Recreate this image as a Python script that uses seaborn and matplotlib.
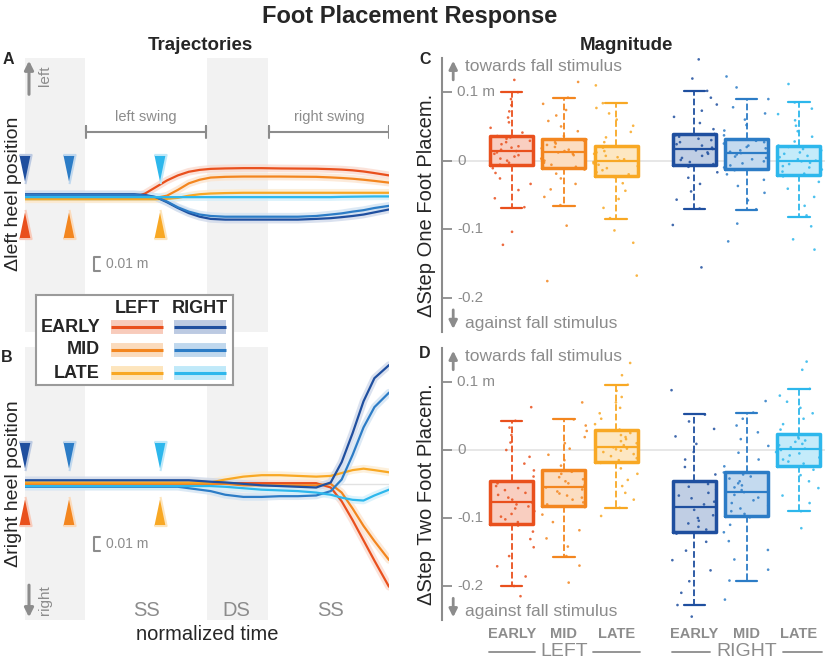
import numpy as np
import pandas as pd
import matplotlib
matplotlib.use("Agg")
import matplotlib.pyplot as plt
import matplotlib.colors as mcolors
import seaborn as sns

sns.set_theme(style="white")
plt.rcParams['font.family'] = ['Liberation Sans', 'DejaVu Sans']

GRAY = '#8c8c8c'
SHADE = '#f2f2f2'

# colours: EARLY / MID / LATE
COL_LEFT = ['#e9501d', '#f3861f', '#f8a824']
COL_RIGHT = ['#1f4f9f', '#2c7cc6', '#2db7ec']
PHASES = ['EARLY', 'MID', 'LATE']

# ---------------- trajectories (cm), normalized time ----------------
TIME = [0, .05, .1, .15, .2, .25, .3, .33, .36, .39, .42, .45, .48,
        .51, .55, .6, .65, .7, .75, .8, .84, .87, .9, .93, .96, 1.0]

A_LEFT_EARLY = [-0.1, -0.1, -0.1, -0.1, -0.1, -0.05, 0.0, 0.25, 0.7, 1.15, 1.5, 1.75, 1.88,
                1.95, 1.98, 2.0, 2.0, 1.98, 1.97, 1.96, 1.93, 1.9, 1.85, 1.77, 1.66, 1.5]
A_LEFT_MID = [-0.1, -0.1, -0.1, -0.1, -0.1, -0.1, -0.1, -0.1, -0.05, 0.1, 0.5, 0.95, 1.2,
              1.35, 1.4, 1.42, 1.42, 1.42, 1.41, 1.4, 1.36, 1.32, 1.27, 1.2, 1.12, 1.0]
A_LEFT_LATE = [-0.15, -0.15, -0.15, -0.15, -0.15, -0.15, -0.15, -0.15, -0.15, -0.12, -0.05, 0.1, 0.2,
               0.25, 0.28, 0.3, 0.3, 0.3, 0.3, 0.3, 0.3, 0.3, 0.3, 0.3, 0.3, 0.3]
A_RIGHT_EARLY = [0.2, 0.2, 0.2, 0.2, 0.2, 0.2, 0.2, 0.15, 0.0, -0.35, -0.75, -1.1, -1.35,
                 -1.5, -1.55, -1.55, -1.55, -1.55, -1.55, -1.5, -1.45, -1.38, -1.3, -1.2, -1.05, -0.85]
A_RIGHT_MID = [0.15, 0.15, 0.15, 0.15, 0.15, 0.15, 0.15, 0.1, 0.0, -0.3, -0.7, -1.0, -1.2,
               -1.3, -1.35, -1.35, -1.35, -1.35, -1.35, -1.3, -1.2, -1.12, -1.0, -0.9, -0.75, -0.6]
A_RIGHT_LATE = [0.0, 0.0, 0.0, 0.0, 0.0, 0.0, 0.0, 0.0, 0.0, 0.0, 0.0, 0.0, 0.0,
                0.0, 0.0, 0.0, 0.0, 0.0, 0.0, 0.0, 0.0, 0.02, 0.03, 0.04, 0.05, 0.05]

B_LEFT_EARLY = [0.05, 0.05, 0.05, 0.05, 0.05, 0.05, 0.05, 0.05, 0.05, 0.05, 0.05, 0.05, 0.05,
                0.05, 0.05, 0.05, 0.05, 0.05, 0.05, 0.05, -0.25, -1.2, -2.5, -3.9, -5.3, -7.1]
B_LEFT_MID = [0.0, 0.0, 0.0, 0.0, 0.0, 0.0, 0.0, 0.0, 0.0, 0.0, 0.0, 0.0, 0.0,
              0.0, 0.0, -0.1, -0.1, -0.1, -0.1, -0.1, 0.0, -0.6, -1.7, -2.9, -3.95, -5.25]
B_LEFT_LATE = [0.1, 0.1, 0.1, 0.1, 0.1, 0.1, 0.1, 0.1, 0.1, 0.1, 0.1, 0.1, 0.1,
               0.1, 0.3, 0.5, 0.6, 0.6, 0.55, 0.5, 0.55, 0.75, 0.95, 1.05, 0.95, 0.8]
B_RIGHT_EARLY = [0.25, 0.25, 0.25, 0.25, 0.25, 0.25, 0.25, 0.25, 0.25, 0.25, 0.25, 0.25, 0.2,
                 0.15, 0.1, 0.0, -0.1, -0.15, -0.2, -0.25, 0.1, 1.5, 3.5, 5.7, 7.3, 8.2]
B_RIGHT_MID = [-0.2, -0.2, -0.2, -0.2, -0.2, -0.2, -0.2, -0.2, -0.2, -0.2, -0.2, -0.3, -0.4,
               -0.5, -0.75, -0.9, -0.9, -0.85, -0.85, -0.8, -0.5, 0.3, 2.0, 3.9, 5.3, 6.3]
B_RIGHT_LATE = [-0.15, -0.15, -0.15, -0.15, -0.15, -0.15, -0.15, -0.15, -0.15, -0.15, -0.15, -0.15, -0.15,
                -0.15, -0.2, -0.3, -0.4, -0.45, -0.5, -0.6, -0.75, -0.95, -1.1, -1.15, -0.8, -0.4]

STIM_TIMES = [0.0, 0.12, 0.37]          # EARLY, MID, LATE stimulus onset
DS_SPANS = [(0.0, 0.165), (0.5, 0.667)]  # double stance phases
PHASE_LABELS = ['SS', 'DS', 'SS']
PHASE_CENTERS = [0.335, 0.58, 0.838]

# ---------------- foot placement (cm) ----------------
GROUPS = ['LEFT EARLY', 'LEFT MID', 'LEFT LATE', 'RIGHT EARLY', 'RIGHT MID', 'RIGHT LATE']
POS = [0, 1, 2, 3.5, 4.5, 5.5]

S1_LO = [-6.9, -6.6, -8.5, -7.1, -7.2, -8.2]
S1_Q1 = [-0.7, -1.1, -2.2, -0.7, -1.2, -2.1]
S1_MED = [1.4, 1.2, 0.0, 1.7, 1.1, 0.0]
S1_Q3 = [3.65, 3.1, 2.15, 3.9, 3.1, 2.2]
S1_HI = [10.0, 9.2, 8.4, 10.2, 9.0, 8.5]

S2_LO = [-20.0, -15.8, -8.5, -22.8, -19.2, -9.0]
S2_Q1 = [-10.9, -8.2, -1.7, -12.1, -9.7, -2.3]
S2_MED = [-7.65, -5.45, 0.4, -8.4, -6.2, 0.15]
S2_Q3 = [-4.6, -3.0, 3.0, -4.6, -3.3, 2.3]
S2_HI = [4.3, 4.5, 9.6, 5.25, 5.5, 9.0]

S1_DOTS = [
    [-12.3, -10.4, -6.8, -5.5, -4.3, -3.4, -2.6, -1.8, -1.1, -0.6, -0.3, 0.0, 0.3, 0.6, 0.8, 1.0, 1.2, 1.4,
     1.6, 1.9, 2.1, 2.4, 2.7, 2.9, 3.2, 3.4, 3.6, 4.1, 4.8, 5.6, 6.3, 7.2, 8.1, 9.0, 10.0, 11.8],
    [-17.6, -9.5, -6.5, -5.3, -4.2, -3.4, -2.6, -1.9, -1.3, -0.9, -0.6, -0.3, 0.0, 0.3, 0.5, 0.8, 1.0, 1.2,
     1.4, 1.6, 1.8, 2.0, 2.3, 2.5, 2.7, 2.9, 3.1, 3.6, 4.3, 5.0, 5.8, 6.6, 7.4, 8.3, 9.2, 11.5],
    [-16.8, -12.0, -10.2, -8.4, -6.9, -5.6, -4.4, -3.3, -2.4, -2.0, -1.7, -1.4, -1.1, -0.8, -0.6, -0.4, -0.2, 0.0,
     0.2, 0.5, 0.7, 1.0, 1.2, 1.4, 1.7, 1.9, 2.1, 2.7, 3.4, 4.2, 5.1, 6.0, 6.9, 7.7, 8.4, 11.0],
    [-15.6, -9.4, -7.0, -5.7, -4.5, -3.4, -2.5, -1.7, -0.9, -0.5, -0.2, 0.1, 0.4, 0.7, 1.0, 1.2, 1.5, 1.7,
     1.9, 2.2, 2.4, 2.7, 3.0, 3.2, 3.5, 3.7, 3.9, 4.6, 5.5, 6.4, 7.3, 8.2, 9.2, 10.2, 12.0, 14.8],
    [-11.8, -9.2, -7.1, -5.8, -4.7, -3.7, -2.8, -2.0, -1.4, -1.0, -0.7, -0.4, -0.1, 0.2, 0.4, 0.6, 0.9, 1.1,
     1.3, 1.5, 1.8, 2.0, 2.2, 2.5, 2.7, 2.9, 3.1, 3.7, 4.4, 5.2, 6.0, 6.9, 7.8, 9.0, 10.7, 12.3],
    [-13.0, -11.5, -9.6, -8.0, -6.6, -5.3, -4.1, -3.1, -2.3, -1.9, -1.6, -1.3, -1.0, -0.8, -0.5, -0.3, -0.1, 0.0,
     0.2, 0.5, 0.7, 1.0, 1.2, 1.5, 1.7, 2.0, 2.2, 2.8, 3.5, 4.3, 5.1, 5.9, 6.8, 7.6, 8.5, 11.2],
]
S2_DOTS = [
    [-21.5, -20.0, -18.6, -17.1, -15.6, -14.3, -13.1, -12.0, -11.1, -10.6, -10.2, -9.8, -9.4, -9.0, -8.6, -8.3,
     -8.0, -7.7, -7.3, -7.0, -6.6, -6.3, -5.9, -5.6, -5.3, -4.9, -4.6, -3.9, -3.0, -2.0, -1.0, 0.0, 1.1, 2.2,
     3.3, 4.3, 6.3],
    [-19.5, -17.0, -15.6, -14.2, -13.0, -11.8, -10.6, -9.5, -8.4, -8.0, -7.7, -7.3, -7.0, -6.7, -6.4, -6.1,
     -5.8, -5.5, -5.2, -4.9, -4.6, -4.3, -4.0, -3.8, -3.5, -3.2, -3.0, -2.3, -1.5, -0.7, 0.2, 1.0, 1.9, 2.8,
     3.6, 4.5, 7.0],
    [-9.7, -8.5, -7.3, -6.3, -5.3, -4.4, -3.5, -2.7, -1.9, -1.5, -1.2, -0.9, -0.6, -0.3, -0.1, 0.1, 0.2, 0.4,
     0.7, 1.0, 1.3, 1.6, 1.9, 2.2, 2.5, 2.8, 3.0, 3.8, 4.6, 5.4, 6.2, 7.0, 7.8, 8.7, 9.6, 11.0, 12.8],
    [-24.5, -22.8, -21.0, -19.3, -17.7, -16.2, -14.8, -13.5, -12.3, -11.7, -11.3, -10.8, -10.4, -10.0, -9.6,
     -9.2, -8.8, -8.4, -8.0, -7.6, -7.1, -6.7, -6.3, -5.8, -5.4, -5.0, -4.6, -3.6, -2.5, -1.4, -0.3, 0.9, 2.0,
     3.1, 4.2, 5.2, 8.8],
    [-22.0, -19.2, -17.6, -16.1, -14.7, -13.4, -12.1, -11.0, -9.9, -9.4, -9.0, -8.6, -8.2, -7.8, -7.4, -7.0,
     -6.6, -6.2, -5.9, -5.5, -5.2, -4.9, -4.6, -4.2, -3.9, -3.6, -3.3, -2.4, -1.4, -0.4, 0.6, 1.6, 2.6, 3.6,
     4.6, 5.5, 7.2],
    [-11.5, -9.0, -7.8, -6.7, -5.6, -4.6, -3.7, -2.9, -2.4, -2.0, -1.7, -1.4, -1.1, -0.8, -0.5, -0.3, 0.0, 0.2,
     0.4, 0.7, 0.9, 1.2, 1.4, 1.7, 1.9, 2.1, 2.3, 3.0, 3.8, 4.6, 5.4, 6.2, 7.1, 8.0, 9.0, 11.8, 13.0],
]

Y_TICKS = [-20, -10, 0, 10]
Y_TICK_LABELS = ['-0.2', '-0.1', '0', '0.1 m']


def tint(c, f):
    r = np.array(mcolors.to_rgb(c))
    return tuple(1 - f * (1 - r))


def draw_traj(ax, left_lines, right_lines, ylim):
    ax.set_xlim(0, 1)
    ax.set_ylim(*ylim)
    ax.axis('off')
    for x0, x1 in DS_SPANS:
        ax.axvspan(x0, x1, color=SHADE, lw=0, zorder=0)
    ax.axhline(0, color='#e2e2e2', lw=1, zorder=0.5)
    pairs = list(zip(left_lines, COL_LEFT)) + list(zip(right_lines, COL_RIGHT))
    for vals, c in pairs:
        sns.lineplot(x=TIME, y=vals, color=tint(c, 0.22), lw=5.5, alpha=0.75, ax=ax)
    for vals, c in pairs:
        sns.lineplot(x=TIME, y=vals, color=c, lw=1.6, ax=ax)
    # stimulus onsets
    tri_down = [(-0.42, 1.0), (0.42, 1.0), (0.0, -1.0)]
    tri_up = [(-0.42, -1.0), (0.42, -1.0), (0.0, 1.0)]
    for t, cr, cl in zip(STIM_TIMES, COL_RIGHT, COL_LEFT):
        ax.scatter([t], [1.95], marker=tri_down, s=440, color=cr, edgecolor=tint(cr, 0.3),
                   linewidth=1.5, clip_on=False, zorder=5)
        ax.scatter([t], [-1.85], marker=tri_up, s=440, color=cl, edgecolor=tint(cl, 0.3),
                   linewidth=1.5, clip_on=False, zorder=5)


def scale_bar(ax, y0):
    ax.plot([0.205, 0.19, 0.19, 0.205], [y0, y0, y0 - 1, y0 - 1], color=GRAY, lw=1.5)
    ax.text(0.223, y0 - 0.5, '0.01 m', color=GRAY, fontsize=10, va='center')


def draw_boxes(ax, lo, q1, med, q3, hi, dots):
    pal_dark = dict(zip(GROUPS, COL_LEFT + COL_RIGHT))
    pal_light = {g: tint(c, 0.28) for g, c in pal_dark.items()}
    box_df = pd.DataFrame({
        'pos': np.repeat(POS, 5),
        'grp': np.repeat(GROUPS, 5),
        'val': np.column_stack([lo, q1, med, q3, hi]).ravel(),
    })
    dot_df = pd.DataFrame({
        'pos': np.concatenate([[p] * len(d) for p, d in zip(POS, dots)]),
        'grp': np.concatenate([[g] * len(d) for g, d in zip(GROUPS, dots)]),
        'val': np.concatenate(dots),
    })
    ax.axhline(0, color='#e3e3e3', lw=1.2, zorder=0)
    common = dict(data=box_df, x='pos', y='val', hue='grp', native_scale=True, dodge=False,
                  orient='x', width=0.82, whis=(0, 100), saturation=1, legend=False, ax=ax)
    sns.boxplot(palette=pal_light, linewidth=0, **common)
    sns.stripplot(data=dot_df, x='pos', y='val', hue='grp', palette=pal_dark, native_scale=True,
                  dodge=False, orient='x', jitter=0.44, size=1.9, alpha=0.85, linewidth=0,
                  legend=False, ax=ax)
    sns.boxplot(palette=pal_dark, fill=False, linewidth=2.5,
                whiskerprops={'linestyle': '--', 'linewidth': 1.3},
                capprops={'linewidth': 1.6}, medianprops={'linewidth': 1.6}, **common)
    ax.set_xlim(-1.34, 6.0)
    ax.set_ylim(-25, 15)
    ax.set_xlabel('')
    ax.set_ylabel('')
    for s in ['top', 'right', 'bottom']:
        ax.spines[s].set_visible(False)
    ax.spines['left'].set_color(GRAY)
    ax.spines['left'].set_linewidth(1.5)
    ax.set_xticks([])
    ax.set_yticks(Y_TICKS)
    ax.set_yticklabels([])
    ax.tick_params(axis='y', direction='in', length=7, width=1.3, color=GRAY, left=True)
    tr = ax.get_yaxis_transform()
    for v, lab in zip(Y_TICKS, Y_TICK_LABELS):
        ax.text(0.04, v, lab, transform=tr, color=GRAY, fontsize=11, va='center', ha='left')
    # direction hints
    ax.annotate('', xy=(0.03, 1.0), xytext=(0.03, 0.91), xycoords='axes fraction',
                arrowprops=dict(arrowstyle='-|>', color=GRAY, lw=2, mutation_scale=12))
    ax.annotate('', xy=(0.03, 0.0), xytext=(0.03, 0.09), xycoords='axes fraction',
                arrowprops=dict(arrowstyle='-|>', color=GRAY, lw=2, mutation_scale=12))
    ax.text(0.061, 0.97, 'towards fall stimulus', transform=ax.transAxes, color=GRAY,
            fontsize=12.5, va='center')
    ax.text(0.061, 0.03, 'against fall stimulus', transform=ax.transAxes, color=GRAY,
            fontsize=12.5, va='center')


fig = plt.figure(figsize=(8.25, 6.6), dpi=100)
axA = fig.add_axes([0.0303, 0.497, 0.4412, 0.4152])
axB = fig.add_axes([0.0303, 0.0606, 0.4412, 0.4136])
axC = fig.add_axes([0.5354, 0.4974, 0.4646, 0.4147])
axD = fig.add_axes([0.5354, 0.0606, 0.4646, 0.4121])

# ---- panel A
draw_traj(axA, [A_LEFT_EARLY, A_LEFT_MID, A_LEFT_LATE],
          [A_RIGHT_EARLY, A_RIGHT_MID, A_RIGHT_LATE], (-9.3, 9.6))
for (x0, x1), lab in zip([(0.167, 0.497), (0.67, 1.0)], ['left swing', 'right swing']):
    axA.plot([x0, x0, x0, x1, x1, x1], [4.1, 4.9, 4.5, 4.5, 4.9, 4.1], color=GRAY, lw=1.5)
    axA.text((x0 + x1) / 2, 5.5, lab, color=GRAY, fontsize=10.5, ha='center', va='center')
axA.annotate('', xy=(0.011, 9.6), xytext=(0.011, 6.9),
             arrowprops=dict(arrowstyle='-|>', color=GRAY, lw=2.2, mutation_scale=13))
axA.text(0.054, 8.4, 'left', rotation=90, color=GRAY, fontsize=11, ha='center', va='center')
scale_bar(axA, -4.1)

# ---- panel B
draw_traj(axB, [B_LEFT_EARLY, B_LEFT_MID, B_LEFT_LATE],
          [B_RIGHT_EARLY, B_RIGHT_MID, B_RIGHT_LATE], (-9.4, 9.45))
axB.annotate('', xy=(0.011, -9.4), xytext=(0.011, -6.8),
             arrowprops=dict(arrowstyle='-|>', color=GRAY, lw=2.2, mutation_scale=13))
axB.text(0.056, -8.0, 'right', rotation=90, color=GRAY, fontsize=11, ha='center', va='center')
for x, lab in zip(PHASE_CENTERS, PHASE_LABELS):
    axB.text(x, -8.75, lab, color=GRAY, fontsize=14.5, ha='center', va='center')
scale_bar(axB, -3.65)

# ---- legend box
lg = fig.add_axes([36 / 825, 1 - 385 / 660, 197 / 825, 90 / 660])
lg.set_xlim(0, 197)
lg.set_ylim(90, 0)
lg.set_xticks([])
lg.set_yticks([])
for s in lg.spines.values():
    s.set_color('#9a9a9a')
    s.set_linewidth(1.5)
lg.text(101, 13, 'LEFT', ha='center', va='center', fontweight='bold', fontsize=13)
lg.text(164, 13, 'RIGHT', ha='center', va='center', fontweight='bold', fontsize=13)
for i, lab in enumerate(PHASES):
    y = 32 + 23 * i
    lg.text(64, y, lab, ha='right', va='center', fontweight='bold', fontsize=13)
    for (x0, x1), c in zip([(75, 127), (138, 190)], [COL_LEFT[i], COL_RIGHT[i]]):
        lg.plot([x0, x1], [y, y], color=tint(c, 0.3), lw=10, solid_capstyle='butt')
        lg.plot([x0, x1], [y, y], color=c, lw=2.2, solid_capstyle='butt')

# ---- panels C, D
draw_boxes(axC, S1_LO, S1_Q1, S1_MED, S1_Q3, S1_HI, S1_DOTS)
draw_boxes(axD, S2_LO, S2_Q1, S2_MED, S2_Q3, S2_HI, S2_DOTS)

tr = axD.get_xaxis_transform()
for p, g in zip(POS, GROUPS):
    axD.text(p, -0.052, g.split()[1], transform=tr, color=GRAY, fontsize=10.5, fontweight='bold',
             ha='center', va='center', clip_on=False)
for side, center, half, x0, x1 in [('LEFT', 1.0, 0.55, -0.43, 2.45), ('RIGHT', 4.5, 0.7, 3.07, 5.95)]:
    axD.text(center, -0.116, side, transform=tr, color=GRAY, fontsize=14,
             ha='center', va='center', clip_on=False)
    axD.plot([x0, center - half], [-0.116, -0.116], transform=tr, color=GRAY, lw=1.3, clip_on=False)
    axD.plot([center + half, x1], [-0.116, -0.116], transform=tr, color=GRAY, lw=1.3, clip_on=False)

# ---- titles & labels
fig.text(410 / 825, 1 - 16 / 660, 'Foot Placement Response', ha='center', va='center',
         fontsize=17, fontweight='bold')
fig.text(200 / 825, 1 - 45 / 660, 'Trajectories', ha='center', va='center', fontsize=13.5, fontweight='bold')
fig.text(626 / 825, 1 - 45 / 660, 'Magnitude', ha='center', va='center', fontsize=13.5, fontweight='bold')
fig.text(14 / 825, 1 - 194 / 660, 'Δleft heel position', rotation=90, ha='center', va='center', fontsize=14)
fig.text(14 / 825, 1 - 484 / 660, 'Δright heel position', rotation=90, ha='center', va='center', fontsize=14)
fig.text(426 / 825, 1 - 205 / 660, 'ΔStep One Foot Placem.', rotation=90, ha='center', va='center', fontsize=14.5)
fig.text(426 / 825, 1 - 494 / 660, 'ΔStep Two Foot Placem.', rotation=90, ha='center', va='center', fontsize=14.5)
fig.text(207 / 825, 1 - 635 / 660, 'normalized time', ha='center', va='center', fontsize=14.5)
for lab, x, y in [('A', 8, 60), ('B', 7, 357), ('C', 425, 60), ('D', 425, 354)]:
    fig.text(x / 825, 1 - y / 660, lab, ha='center', va='center', fontsize=11.5, fontweight='bold')

fig.savefig('out.png', dpi=100)
